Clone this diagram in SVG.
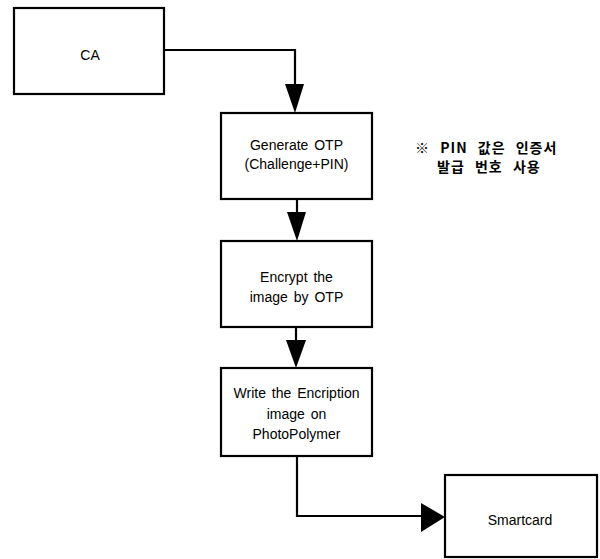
<svg xmlns="http://www.w3.org/2000/svg" width="600" height="559" viewBox="0 0 600 559">
<style>
.box{fill:#fff;stroke:#000;stroke-width:2.2}
.t{font-family:"Liberation Sans",Arial,sans-serif;font-size:14px;fill:#000;text-anchor:middle;word-spacing:2px}
.k{font-family:"Noto Sans CJK KR","Noto Sans",sans-serif;font-size:14px;font-weight:bold;fill:#000;letter-spacing:1px;word-spacing:6px}
.c{fill:none;stroke:#000;stroke-width:2.2}
.ah{fill:#000;stroke:none}
</style>
<rect width="600" height="559" fill="#fff"/>
<g id="ca"><rect class="box" x="14" y="8" width="150" height="86"/><text class="t" x="90" y="60">CA</text></g>
<g id="generate"><rect class="box" x="221" y="113" width="151" height="86"/><text class="t" x="296.5" y="150">Generate OTP</text><text class="t" x="296.5" y="169">(Challenge+PIN)</text></g>
<g id="encrypt"><rect class="box" x="221" y="241" width="151" height="86"/><text class="t" x="296.5" y="282">Encrypt the</text><text class="t" x="296.5" y="302">image by OTP</text></g>
<g id="write"><rect class="box" x="221" y="368" width="151" height="88"/><text class="t" x="296.5" y="398">Write the Encription</text><text class="t" x="296.5" y="419">image on</text><text class="t" x="296.5" y="439">PhotoPolymer</text></g>
<g id="smartcard"><rect class="box" x="445" y="475" width="152" height="82"/><text class="t" x="520" y="525">Smartcard</text></g>
<g id="note"><text class="k" x="415" y="153">※ PIN 값은 인증서</text><text class="k" x="437" y="172">발급 번호 사용</text></g>
<g id="connectors">
<polyline class="c" points="164,50 295,50 295,88"/>
<polygon class="ah" points="285,84 304,84 295,113"/>
<line class="c" x1="297" y1="199" x2="297" y2="216"/>
<polygon class="ah" points="287,212 306,212 297,241"/>
<line class="c" x1="296" y1="327" x2="296" y2="344"/>
<polygon class="ah" points="286,340 306,340 296,368"/>
<polyline class="c" points="297,456 297,516 424,516"/>
<polygon class="ah" points="421,503 421,532 445,517"/>
</g>
</svg>
